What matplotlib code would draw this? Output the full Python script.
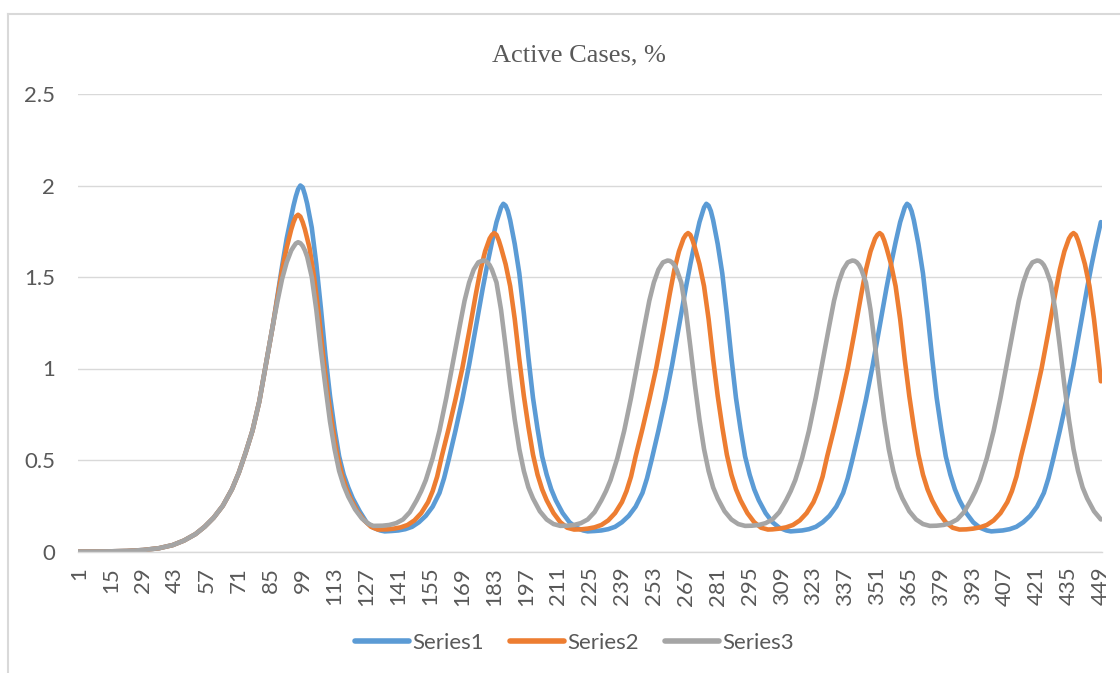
import matplotlib.pyplot as plt
from matplotlib.lines import Line2D

# shared early growth (all three series overlap here)
ramp_days = [1, 8, 15, 22, 29, 36, 42, 47, 52, 56, 60, 64, 68, 71, 74, 77, 80, 83, 86]
ramp_vals = [0.0, 0.0, 0.001, 0.003, 0.008, 0.018, 0.035, 0.06, 0.095, 0.135, 0.185,
             0.25, 0.34, 0.43, 0.54, 0.66, 0.82, 1.03, 1.24]

# Series1 (blue), one row per wave
s1_days = [88, 90, 92, 94, 95, 96, 97, 98, 99, 100, 101, 103, 105, 107, 109, 111, 113, 115, 117, 119, 121, 124, 127, 130, 133, 135,
           138, 141, 144, 147, 150, 153, 156, 159, 161, 163, 166, 169, 172, 175, 178, 180, 182, 184, 186, 187,
           188, 189, 190, 192, 194, 196, 198, 200, 202, 204, 206, 208, 210, 213, 216, 219, 222, 224,
           227, 230, 233, 236, 239, 242, 245, 248, 250, 252, 255, 258, 261, 264, 267, 269, 271, 273, 275, 276,
           277, 278, 279, 281, 283, 285, 287, 289, 291, 293, 295, 297, 299, 302, 305, 308, 311, 313,
           315, 318, 321, 324, 327, 330, 333, 336, 338, 340, 343, 346, 349, 352, 355, 357, 359, 361, 363, 364,
           365, 366, 367, 369, 371, 373, 375, 377, 379, 381, 383, 385, 387, 390, 393, 396, 399, 401,
           403, 406, 409, 412, 415, 418, 421, 424, 426, 428, 431, 434, 437, 440, 443, 445, 447, 449]
s1_vals = [1.40, 1.56, 1.71, 1.83, 1.89, 1.94, 1.98, 2.00, 1.99, 1.95, 1.90, 1.77, 1.57, 1.33, 1.07, 0.85, 0.67, 0.52, 0.42, 0.35, 0.29, 0.22, 0.16, 0.13, 0.115, 0.11,
           0.112, 0.115, 0.122, 0.135, 0.16, 0.195, 0.245, 0.32, 0.40, 0.50, 0.66, 0.83, 1.02, 1.23, 1.44, 1.57, 1.69, 1.80, 1.88, 1.90,
           1.89, 1.86, 1.81, 1.68, 1.52, 1.30, 1.06, 0.84, 0.67, 0.52, 0.42, 0.34, 0.28, 0.21, 0.16, 0.13, 0.115, 0.11,
           0.112, 0.115, 0.122, 0.135, 0.16, 0.195, 0.245, 0.32, 0.40, 0.50, 0.66, 0.83, 1.02, 1.23, 1.44, 1.57, 1.69, 1.80, 1.88, 1.90,
           1.89, 1.86, 1.81, 1.68, 1.52, 1.30, 1.06, 0.84, 0.67, 0.52, 0.42, 0.34, 0.28, 0.21, 0.16, 0.13, 0.115, 0.11,
           0.112, 0.115, 0.122, 0.135, 0.16, 0.195, 0.245, 0.32, 0.40, 0.50, 0.66, 0.83, 1.02, 1.23, 1.44, 1.57, 1.69, 1.80, 1.88, 1.90,
           1.89, 1.86, 1.81, 1.68, 1.52, 1.30, 1.06, 0.84, 0.67, 0.52, 0.42, 0.34, 0.28, 0.21, 0.16, 0.13, 0.115, 0.11,
           0.112, 0.115, 0.122, 0.135, 0.16, 0.195, 0.245, 0.32, 0.40, 0.50, 0.66, 0.83, 1.02, 1.23, 1.44, 1.57, 1.69, 1.80]

# Series2 (orange)
s2_days = [88, 90, 92, 94, 95, 96, 97, 98, 99, 100, 102, 104, 106, 108, 110, 112, 114, 116, 118, 120, 123, 126, 129, 132,
           136, 139, 142, 145, 148, 151, 154, 156, 158, 160, 163, 166, 169, 172, 175, 177, 179, 181, 182, 183,
           184, 185, 186, 188, 190, 192, 194, 196, 198, 200, 202, 204, 206, 209, 212, 215, 218,
           221, 224, 227, 230, 233, 236, 239, 241, 243, 245, 248, 251, 254, 257, 260, 262, 264, 266, 267, 268,
           269, 270, 271, 273, 275, 277, 279, 281, 283, 285, 287, 289, 291, 294, 297, 300, 303,
           305, 308, 311, 314, 317, 320, 323, 325, 327, 329, 332, 335, 338, 341, 344, 346, 348, 350, 351, 352,
           353, 354, 355, 357, 359, 361, 363, 365, 367, 369, 371, 373, 375, 378, 381, 384, 387,
           390, 393, 396, 399, 402, 405, 408, 410, 412, 414, 417, 420, 423, 426, 429, 431, 433, 435, 436, 437,
           438, 439, 440, 442, 444, 446, 448, 449]
s2_vals = [1.39, 1.54, 1.66, 1.76, 1.80, 1.83, 1.84, 1.83, 1.80, 1.76, 1.66, 1.50, 1.30, 1.07, 0.86, 0.69, 0.54, 0.43, 0.35, 0.29, 0.22, 0.17, 0.135, 0.12,
           0.121, 0.125, 0.132, 0.145, 0.17, 0.21, 0.27, 0.33, 0.41, 0.52, 0.67, 0.83, 1.00, 1.20, 1.41, 1.54, 1.64, 1.71, 1.73, 1.74,
           1.73, 1.70, 1.66, 1.57, 1.45, 1.27, 1.05, 0.85, 0.68, 0.53, 0.42, 0.34, 0.28, 0.21, 0.16, 0.13, 0.12,
           0.121, 0.125, 0.132, 0.145, 0.17, 0.21, 0.27, 0.33, 0.41, 0.52, 0.67, 0.83, 1.00, 1.20, 1.41, 1.54, 1.64, 1.71, 1.73, 1.74,
           1.73, 1.70, 1.66, 1.57, 1.45, 1.27, 1.05, 0.85, 0.68, 0.53, 0.42, 0.34, 0.28, 0.21, 0.16, 0.13, 0.12,
           0.121, 0.125, 0.132, 0.145, 0.17, 0.21, 0.27, 0.33, 0.41, 0.52, 0.67, 0.83, 1.00, 1.20, 1.41, 1.54, 1.64, 1.71, 1.73, 1.74,
           1.73, 1.70, 1.66, 1.57, 1.45, 1.27, 1.05, 0.85, 0.68, 0.53, 0.42, 0.34, 0.28, 0.21, 0.16, 0.13, 0.12,
           0.121, 0.125, 0.132, 0.145, 0.17, 0.21, 0.27, 0.33, 0.41, 0.52, 0.67, 0.83, 1.00, 1.20, 1.41, 1.54, 1.64, 1.71, 1.73, 1.74,
           1.73, 1.70, 1.66, 1.57, 1.45, 1.27, 1.05, 0.93]

# Series3 (grey)
s3_days = [88, 90, 92, 94, 95, 96, 97, 98, 99, 100, 101, 103, 105, 107, 109, 111, 113, 115, 117, 119, 122, 125, 128, 130,
           134, 137, 140, 143, 146, 149, 151, 153, 156, 159, 162, 165, 168, 170, 172, 174, 176, 178,
           179, 180, 181, 182, 184, 186, 188, 190, 192, 194, 196, 198, 200, 203, 206, 209, 212,
           215, 218, 221, 224, 227, 230, 232, 234, 237, 240, 243, 246, 249, 251, 253, 255, 257, 259,
           260, 261, 262, 263, 265, 267, 269, 271, 273, 275, 277, 279, 281, 284, 287, 290, 293,
           296, 299, 302, 305, 308, 311, 313, 315, 318, 321, 324, 327, 330, 332, 334, 336, 338, 340,
           341, 342, 343, 344, 346, 348, 350, 352, 354, 356, 358, 360, 362, 365, 368, 371, 374,
           377, 380, 383, 386, 389, 392, 394, 396, 399, 402, 405, 408, 411, 413, 415, 417, 419, 421,
           422, 423, 424, 425, 427, 429, 431, 433, 435, 437, 439, 441, 443, 446, 449]
s3_vals = [1.37, 1.49, 1.58, 1.645, 1.665, 1.683, 1.69, 1.685, 1.67, 1.645, 1.61, 1.50, 1.32, 1.10, 0.90, 0.71, 0.56, 0.44, 0.36, 0.30, 0.23, 0.18, 0.15, 0.14,
           0.141, 0.145, 0.155, 0.175, 0.215, 0.28, 0.33, 0.39, 0.51, 0.66, 0.84, 1.04, 1.24, 1.37, 1.47, 1.54, 1.58, 1.59,
           1.588, 1.58, 1.565, 1.54, 1.47, 1.32, 1.12, 0.91, 0.72, 0.56, 0.44, 0.35, 0.29, 0.22, 0.175, 0.15, 0.14,
           0.141, 0.145, 0.155, 0.175, 0.215, 0.28, 0.33, 0.39, 0.51, 0.66, 0.84, 1.04, 1.24, 1.37, 1.47, 1.54, 1.58, 1.59,
           1.588, 1.58, 1.565, 1.54, 1.47, 1.32, 1.12, 0.91, 0.72, 0.56, 0.44, 0.35, 0.29, 0.22, 0.175, 0.15, 0.14,
           0.141, 0.145, 0.155, 0.175, 0.215, 0.28, 0.33, 0.39, 0.51, 0.66, 0.84, 1.04, 1.24, 1.37, 1.47, 1.54, 1.58, 1.59,
           1.588, 1.58, 1.565, 1.54, 1.47, 1.32, 1.12, 0.91, 0.72, 0.56, 0.44, 0.35, 0.29, 0.22, 0.175, 0.15, 0.14,
           0.141, 0.145, 0.155, 0.175, 0.215, 0.28, 0.33, 0.39, 0.51, 0.66, 0.84, 1.04, 1.24, 1.37, 1.47, 1.54, 1.58, 1.59,
           1.588, 1.58, 1.565, 1.54, 1.47, 1.32, 1.12, 0.91, 0.72, 0.56, 0.44, 0.35, 0.29, 0.22, 0.175]

series_names = ['Series1', 'Series2', 'Series3']
colors = ['#5B9BD5', '#ED7D31', '#A5A5A5']
y_ticks = [0, 0.5, 1, 1.5, 2, 2.5]
y_labels = ['0', '0.5', '1', '1.5', '2', '2.5']
x_ticks = list(range(1, 450, 14))

txt = '#595959'
W, H = 1120, 673

fig = plt.figure(figsize=(W / 100, H / 100), dpi=100)
ax = fig.add_axes([78 / W, (H - 551.5) / H, 1024 / W, (551.5 - 94) / H])

for days, vals, c, name in zip([s1_days, s2_days, s3_days], [s1_vals, s2_vals, s3_vals], colors, series_names):
    ax.plot(ramp_days + days, ramp_vals + vals, color=c, lw=3.3, label=name,
            solid_joinstyle='round', solid_capstyle='round')

ax.set_xlim(0.5, 449.5)
ax.set_ylim(0, 2.5)
ax.set_yticks(y_ticks)
ax.set_yticklabels(y_labels, family='Lato', fontsize=16, color=txt)
ax.set_xticks(x_ticks)
ax.set_xticklabels([str(t) for t in x_ticks], rotation=90, family='Lato', fontsize=16, color=txt)
ax.tick_params(axis='both', length=0)
ax.tick_params(axis='y', pad=16.5)
ax.tick_params(axis='x', pad=11)
ax.grid(axis='y', color='#d9d9d9', lw=1)
ax.set_axisbelow(True)
for s in ['top', 'right', 'left']:
    ax.spines[s].set_visible(False)
ax.spines['bottom'].set_color('#d9d9d9')
ax.spines['bottom'].set_linewidth(1)

fig.text(579 / W, 1 - 55 / H, 'Active Cases, %', ha='center', va='center',
         family='Liberation Serif', fontsize=19, color=txt)

leg = fig.legend(loc='center', bbox_to_anchor=(574.5 / W, 30 / H), ncol=3, frameon=False,
                 prop={'family': 'Lato', 'size': 16}, handlelength=2.4, handletextpad=0.15,
                 columnspacing=1.2)
for t in leg.get_texts():
    t.set_color(txt)
for l in leg.get_lines():
    l.set_linewidth(4)

# chart area border (top and left edges visible)
fig.add_artist(Line2D([8 / W, 1], [1 - 14 / H, 1 - 14 / H], transform=fig.transFigure, color='#d9d9d9', lw=1.5))
fig.add_artist(Line2D([8 / W, 8 / W], [0, 1 - 14 / H], transform=fig.transFigure, color='#d9d9d9', lw=1.5))

fig.savefig('out.png', dpi=100)
